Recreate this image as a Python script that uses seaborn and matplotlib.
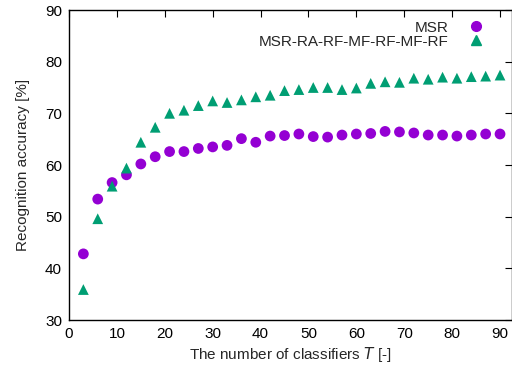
import matplotlib
matplotlib.use("Agg")
import matplotlib.pyplot as plt
import seaborn as sns
import pandas as pd
from matplotlib.lines import Line2D

T = list(range(3, 91, 3))
msr = [42.8, 53.4, 56.6, 58.1, 60.2, 61.6, 62.6, 62.6, 63.2, 63.5,
       63.8, 65.1, 64.4, 65.6, 65.7, 66.0, 65.5, 65.4, 65.8, 66.0,
       66.1, 66.5, 66.4, 66.2, 65.8, 65.8, 65.6, 65.8, 66.0, 66.0]
combo = [35.9, 49.6, 55.9, 59.4, 64.4, 67.3, 70.0, 70.6, 71.5, 72.4,
         72.1, 72.6, 73.2, 73.5, 74.4, 74.6, 75.0, 75.0, 74.6, 74.9,
         75.8, 76.1, 76.0, 76.8, 76.6, 77.0, 76.8, 77.1, 77.2, 77.4]
labels = ["MSR", "MSR-RA-RF-MF-RF-MF-RF"]
xticks = list(range(0, 91, 10))
yticks = list(range(30, 91, 10))

df = pd.DataFrame({
    "T": T * 2,
    "acc": msr + combo,
    "method": [labels[0]] * len(T) + [labels[1]] * len(T),
})

sns.set_style("white")
plt.rcParams["font.family"] = ["Liberation Sans", "DejaVu Sans"]
plt.rcParams["font.size"] = 11

fig = plt.figure(figsize=(5.12, 3.69), dpi=100)
ax = fig.add_axes([69/512, 1 - 320/369, 1 - 69/512, (320 - 10)/369])

sns.scatterplot(data=df, x="T", y="acc", hue="method", style="method",
                markers={labels[0]: "o", labels[1]: "^"},
                palette={labels[0]: "#9400D3", labels[1]: "#009E73"},
                s=60, linewidth=0, ax=ax, legend=False)

ax.set_xlim(0, 92.5)
ax.set_ylim(30, 90)
ax.set_xticks(xticks)
ax.set_yticks(yticks)
ax.tick_params(direction="in", top=True, right=True, length=5, width=0.8,
               labelsize=11, colors="black", pad=5)
for s in ax.spines.values():
    s.set_color("black")
    s.set_linewidth(1.0)
ax.set_xlabel("The number of classifiers $\\mathit{T}$ [-]", fontsize=11, labelpad=3)
ax.set_ylabel("Recognition accuracy [%]", fontsize=11, labelpad=11)

handles = [
    Line2D([], [], linestyle="none", marker="o", color="#9400D3", markersize=7),
    Line2D([], [], linestyle="none", marker="^", color="#009E73", markersize=7),
]
ax.legend(handles, labels, loc="upper right", markerfirst=False, frameon=False,
          bbox_to_anchor=(0.968, 1.0), handletextpad=1.0, labelspacing=0.0,
          handlelength=1.5, borderpad=0.2, fontsize=11)

fig.savefig("out.png", dpi=100)
